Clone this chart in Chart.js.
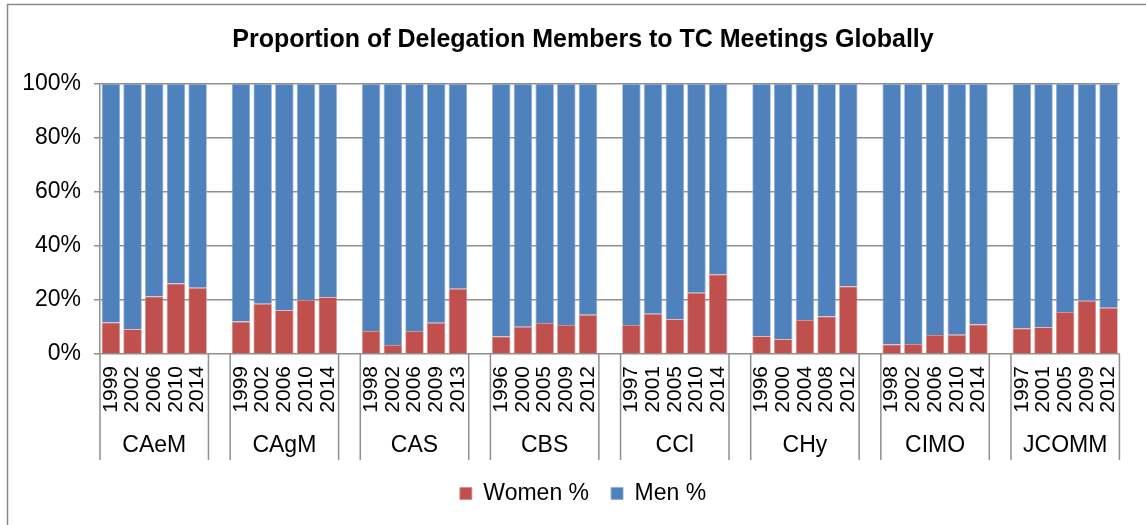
<!DOCTYPE html>
<html>
<head>
<meta charset="utf-8">
<script src="https://cdn.jsdelivr.net/npm/chart.js@4.4.0/dist/chart.umd.min.js"></script>
<style>
  html, body { margin: 0; padding: 0; background: #fff; }
  #wrap { width: 1146px; height: 525px; position: relative; }
</style>
</head>
<body>
<div id="wrap"><canvas id="chart" width="1146" height="525"></canvas></div>
<script>
// committees (group labels)
const groups = ['CAeM', 'CAgM', 'CAS', 'CBS', 'CCl', 'CHy', 'CIMO', 'JCOMM'];
// session years per committee
const years = [
  ['1999', '2002', '2006', '2010', '2014'],
  ['1999', '2002', '2006', '2010', '2014'],
  ['1998', '2002', '2006', '2009', '2013'],
  ['1996', '2000', '2005', '2009', '2012'],
  ['1997', '2001', '2005', '2010', '2014'],
  ['1996', '2000', '2004', '2008', '2012'],
  ['1998', '2002', '2006', '2010', '2014'],
  ['1997', '2001', '2005', '2009', '2012']
];
// women % per committee session
const women = [
  [11.7, 9.2, 21.3, 26.1, 24.5],
  [12.0, 18.6, 16.2, 20.0, 21.0],
  [8.5, 3.3, 8.5, 11.6, 24.2],
  [6.5, 10.1, 11.5, 10.7, 14.5],
  [10.7, 14.9, 12.9, 22.7, 29.5],
  [6.6, 5.5, 12.6, 13.9, 25.0],
  [3.5, 3.7, 7.0, 7.1, 10.9],
  [9.5, 9.9, 15.6, 19.7, 17.1]
];
// men % per committee session
const men = [
  [88.3, 90.8, 78.7, 73.9, 75.5],
  [88.0, 81.4, 83.8, 80.0, 79.0],
  [91.5, 96.7, 91.5, 88.4, 75.8],
  [93.5, 89.9, 88.5, 89.3, 85.5],
  [89.3, 85.1, 87.1, 77.3, 70.5],
  [93.4, 94.5, 87.4, 86.1, 75.0],
  [96.5, 96.3, 93.0, 92.9, 89.1],
  [90.5, 90.1, 84.4, 80.3, 82.9]
];
const yTicks = [0, 20, 40, 60, 80, 100];

// flatten with an empty category between committees
const labels = [], womenData = [], menData = [];
groups.forEach((g, i) => {
  if (i > 0) { labels.push(''); womenData.push(null); menData.push(null); }
  years[i].forEach((y, j) => {
    labels.push(y);
    womenData.push(women[i][j]);
    menData.push(men[i][j]);
  });
});

Chart.defaults.font.family = '"Liberation Sans", Arial, sans-serif';
Chart.defaults.color = '#000';

const gridGray = '#8f8f8f';

const frame = {
  id: 'frame',
  beforeDraw(chart) {
    const c = chart.ctx;
    c.save();
    c.strokeStyle = '#8a8a8a';
    c.lineWidth = 1.5;
    c.strokeRect(7.5, 4.5, 1300, 700);
    c.restore();
  }
};

// title and legend sit a bit right of the canvas centre in the original
const nudge = {
  id: 'nudge',
  afterLayout(chart) {
    if (chart.legend) chart.legend.left += 41;
    if (chart.titleBlock) chart.titleBlock.left += 41;
  }
};

const groupAxis = {
  id: 'groupAxis',
  afterDraw(chart) {
    const x = chart.scales.x, area = chart.chartArea, c = chart.ctx;
    const cw = x.getPixelForValue(1) - x.getPixelForValue(0);
    const top = area.bottom, bot = x.bottom;
    c.save();
    c.strokeStyle = gridGray;
    c.lineWidth = 1.5;
    c.fillStyle = '#000';
    c.font = '23px "Liberation Sans", Arial, sans-serif';
    c.textAlign = 'center';
    c.textBaseline = 'middle';
    groups.forEach((g, i) => {
      const s = i * 6, e = s + years[i].length - 1;
      const l = x.getPixelForValue(s) - cw / 2;
      const r = x.getPixelForValue(e) + cw / 2;
      c.beginPath();
      c.moveTo(l, top); c.lineTo(l, bot);
      c.moveTo(r, top); c.lineTo(r, bot);
      c.stroke();
      c.fillText(g, (l + r) / 2, top + 92);
    });
    c.restore();
  }
};

new Chart(document.getElementById('chart'), {
  type: 'bar',
  data: {
    labels: labels,
    datasets: [
      { label: 'Women %', data: womenData, backgroundColor: '#C0504D', borderColor: '#d48c8a', borderWidth: 0.8, barPercentage: 0.85, categoryPercentage: 1 },
      { label: 'Men %', data: menData, backgroundColor: '#4F81BD', borderColor: '#8eaad3', borderWidth: 0.8, barPercentage: 0.85, categoryPercentage: 1 }
    ]
  },
  options: {
    responsive: false,
    animation: false,
    devicePixelRatio: 1,
    layout: { padding: { left: 0, right: 21, top: 0, bottom: 10 } },
    plugins: {
      title: {
        display: true,
        text: 'Proportion of Delegation Members to TC Meetings Globally',
        font: { size: 25, weight: 'bold' },
        color: '#000',
        padding: { top: 25, bottom: 29 }
      },
      legend: {
        position: 'bottom',
        labels: { boxWidth: 12, boxHeight: 12, font: { size: 23 }, color: '#000', padding: 22 }
      },
      tooltip: { enabled: false }
    },
    scales: {
      x: {
        stacked: true,
        grid: { display: false, drawTicks: false },
        border: { display: false },
        ticks: { autoSkip: false, minRotation: 90, maxRotation: 90, font: { size: 21 }, color: '#000', padding: 12 },
        afterFit(s) { s.height = 106; }
      },
      y: {
        stacked: true,
        min: 0, max: 100,
        afterBuildTicks(s) { s.ticks = yTicks.map(v => ({ value: v })); },
        grid: { color: gridGray, lineWidth: 1.5, tickLength: 6 },
        border: { display: true, color: gridGray, width: 1.5 },
        ticks: { font: { size: 23 }, color: '#000', padding: 13, callback: v => v + '%' },
        afterFit(s) { s.width = 100; }
      }
    }
  },
  plugins: [frame, nudge, groupAxis]
});
</script>
</body>
</html>
